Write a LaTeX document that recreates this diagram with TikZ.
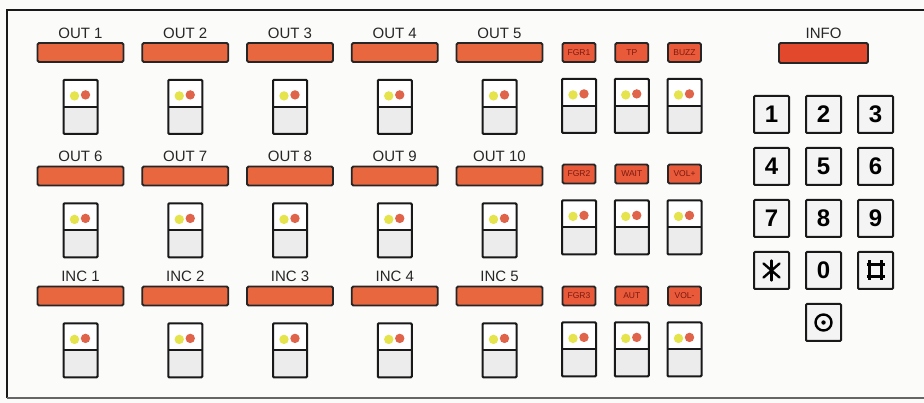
\documentclass[tikz,border=0pt]{standalone}
\usepackage{fontspec}
\setmainfont{Liberation Sans}
\usetikzlibrary{positioning,calc}
\def\colsep{104.75}
\def\tagsep{52.75}
\def\keysep{52}

\definecolor{barfill}{HTML}{E9673F}
\definecolor{tagfill}{HTML}{E85A3A}
\definecolor{infofill}{HTML}{E2482B}
\definecolor{lampyellow}{HTML}{E6E44C}
\definecolor{lampred}{HTML}{E0644A}
\definecolor{keygray}{HTML}{ECECEC}
\definecolor{tagtext}{HTML}{7A1A10}
\definecolor{panel}{HTML}{FBFBFA}

\tikzset{
	every node/.style={
		font=\fontsize{15}{15}\selectfont
	},
	bar/.style={
		shape=rectangle,
		minimum width=86pt,
		minimum height=19pt,
		inner sep=0pt,
		fill=barfill,
		draw=black!85,
		line width=1.8pt,
		rounded corners=1.5pt,
	},
	tag/.style={
		bar,
		minimum width=33pt,
		fill=tagfill,
		font=\fontsize{8.5}{8.5}\selectfont,
		text=tagtext
	},
	switch/.style={
		shape=rectangle,
		minimum width=34pt,
		minimum height=54pt,
		inner sep=0pt,
		fill=white,
		draw=black!90,
		line width=2pt,
		rounded corners=1pt,
		path picture={
			\fill[keygray] (path picture bounding box.west) rectangle (path picture bounding box.south east);
			\draw[line width=2pt] (path picture bounding box.west) -- (path picture bounding box.east);
			\fill[lampyellow] ($(path picture bounding box.center)+(-6,-11)$) circle (4.7);
			\fill[lampred] ($(path picture bounding box.center)+(5,-12)$) circle (4.7);
		}
	},
	key/.style={
		shape=rectangle,
		minimum width=35pt,
		minimum height=37pt,
		inner sep=0pt,
		fill=keygray!60,
		draw=black!90,
		line width=2pt,
		rounded corners=1pt,
		font=\fontsize{24}{24}\selectfont\bfseries
	},
}

\begin{document}
\begin{tikzpicture}
	[x=1pt,y=-1pt]
	\tikzstyle{every label}=[text=black!85]
	\tikzstyle{glyph}=[line width=2.4pt,line cap=round]
	
	\useasboundingbox[fill=panel] (0,0) rectangle (924,403);
	\draw[line width=2pt,black!90] (924,10) -- (7,10) -- (7,398);
	\draw[line width=2.5pt,black!60] (7,398) -- (924,398);
	
	% output and incoming lines
	\foreach \i in {1,...,5}
	\node[bar, label=above:OUT \i] (O-\i) at ({80.5+\colsep*(\i-1)},52.5) {};
	
	\foreach \i in {6,...,10}
	\node[bar, label=above:OUT \i] (O-\i) at ({80.5+\colsep*(\i-6)},176) {};
	
	\foreach \i in {1,...,5}
	\node[bar, label=above:INC \i] (I-\i) at ({80.5+\colsep*(\i-1)},296) {};
	
	\foreach \i in {1,...,10}
	\node[switch, below=16pt of O-\i] (SO-\i) {};
	
	\foreach \i in {1,...,5}
	\node[switch, below=16pt of I-\i] (SI-\i) {};
	
	% function keys
	\foreach \id/\txt/\c/\y in {t1/FGR1/0/52.5, t2/TP/1/52.5, t3/BUZZ/2/52.5,
		t4/FGR2/0/174, t5/WAIT/1/174, t6/VOL+/2/174,
		t7/FGR3/0/296, t8/AUT/1/296, t9/VOL-/2/296}
	{
		\node[tag] (\id) at ({579+\tagsep*\c},\y) {\txt};
		\node[switch, below=15pt of \id] (S\id) {};
	}
	
	% keypad
	\node[bar, fill=infofill, minimum width=89pt, minimum height=20pt, label=above:INFO] (info) at (823.5,53) {};
	
	\foreach \name/\c/\r in {1/0/0,2/1/0,3/2/0,4/0/1,5/1/1,6/2/1,7/0/2,8/1/2,9/2/2,0/1/3}
	\node[key] (K-\name) at ({771.5+\keysep*\c},{114.5+\keysep*\r}) {\name};
	
	\node[key] (K-star) at (771.5,{114.5+\keysep*3}) {};
	\node[key] (K-hash) at ({771.5+\keysep*2},{114.5+\keysep*3}) {};
	\node[key] (K-ring) at ({771.5+\keysep},{114.5+\keysep*4}) {};
	
	\draw[glyph] ($(K-star)+(0,-10)$) -- ($(K-star)+(0,10)$);
	\draw[glyph] ($(K-star)+(-8,-7)$) -- ($(K-star)+(8,7)$);
	\draw[glyph] ($(K-star)+(-8,7)$) -- ($(K-star)+(8,-7)$);
	
	\draw[glyph,line cap=butt] ($(K-hash)+(-9,-6)$) -- ($(K-hash)+(9,-6)$);
	\draw[glyph,line cap=butt] ($(K-hash)+(-9,6)$) -- ($(K-hash)+(9,6)$);
	\draw[glyph,line cap=butt] ($(K-hash)+(-6,-10)$) -- ($(K-hash)+(-6,10)$);
	\draw[glyph,line cap=butt] ($(K-hash)+(6,-10)$) -- ($(K-hash)+(6,10)$);
	
	\draw[glyph] (K-ring) circle (8);
	\fill (K-ring) circle (2.2);
\end{tikzpicture}
\end{document}
